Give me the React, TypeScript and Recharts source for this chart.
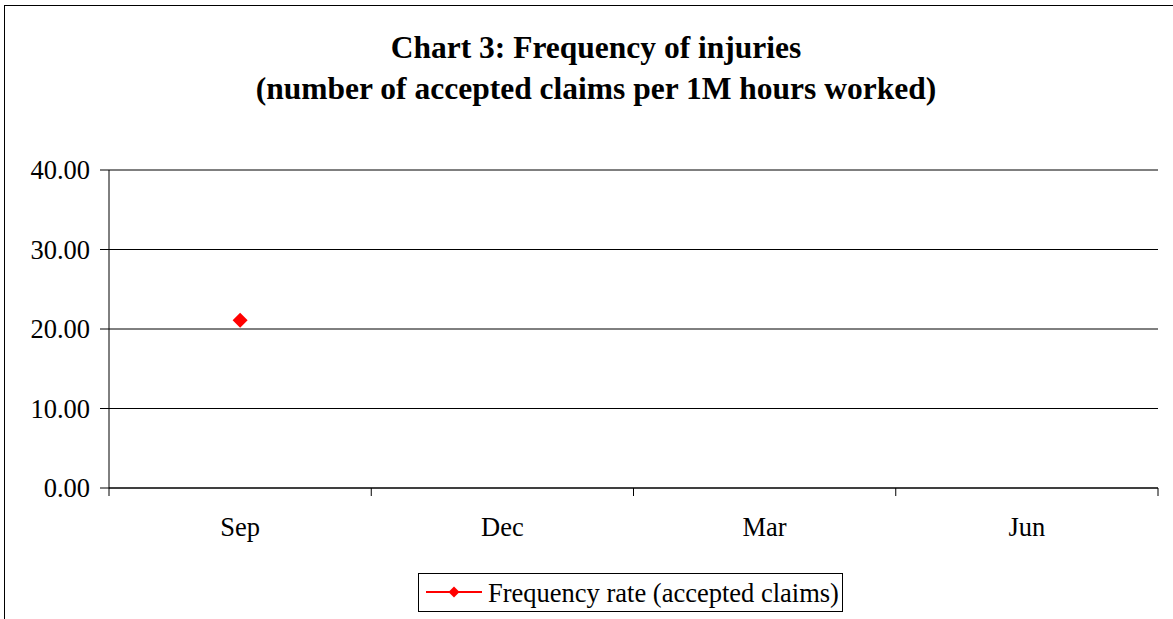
import React from 'react';
import { ComposedChart, Line, XAxis, YAxis, CartesianGrid, Legend } from 'recharts';

const categories = ['Sep', 'Dec', 'Mar', 'Jun'];
const frequencyRate: (number | null)[] = [21.1, null, null, null];
const yTicks = [0, 10, 20, 30, 40];
const seriesName = 'Frequency rate (accepted claims)';
const titleLines = ['Chart 3: Frequency of injuries', '(number of accepted claims per 1M hours worked)'];

const data = categories.map((c, i) => ({ month: c, value: frequencyRate[i] }));

const W = 1173;
const H = 619;
const MARGIN = { top: 170, right: 15, left: 0, bottom: 7 };
const Y_AXIS_W = 109;
const X_AXIS_H = 85;
const FONT = '"Liberation Serif", "Times New Roman", serif';
const LABEL_SIZE = 26.5;
const band = (W - MARGIN.left - Y_AXIS_W - MARGIN.right) / categories.length;

const XTick = (props: any) => {
  const { x, y, payload, index } = props;
  const last = index === categories.length - 1;
  return (
    <g>
      <line x1={x - band / 2} x2={x - band / 2} y1={y} y2={y + 8} stroke="#000" />
      {last && <line x1={x + band / 2} x2={x + band / 2} y1={y} y2={y + 8} stroke="#000" />}
      <text x={x} y={y + 48} textAnchor="middle" fontSize={LABEL_SIZE} fontFamily={FONT} fill="#000">
        {payload.value}
      </text>
    </g>
  );
};

const Diamond = (props: any) => {
  const { cx, cy, index } = props;
  if (cx == null || cy == null || Number.isNaN(cy)) return <g key={`d${index}`} />;
  const r = 7.5;
  return (
    <path
      key={`d${index}`}
      d={`M${cx},${cy - r} L${cx + r},${cy} L${cx},${cy + r} L${cx - r},${cy} Z`}
      fill="#ff0000"
    />
  );
};

const LegendBox = () => (
  <div
    style={{
      width: 425,
      height: 39,
      boxSizing: 'border-box',
      border: '1px solid #000',
      background: '#fff',
      position: 'relative',
    }}
  >
    <svg width={423} height={37} style={{ position: 'absolute', left: 0, top: 0 }}>
      <line x1={7} x2={63} y1={18} y2={18} stroke="#ff0000" strokeWidth={2} />
      <path d="M35,12.5 L40.5,18 L35,23.5 L29.5,18 Z" fill="#ff0000" />
      <text x={69} y={28} fontSize={LABEL_SIZE} fontFamily={FONT} fill="#000">
        {seriesName}
      </text>
    </svg>
  </div>
);

export default function App() {
  return (
    <div
      style={{
        position: 'absolute',
        left: 0,
        top: 0,
        width: W,
        height: H,
        overflow: 'hidden',
        background: '#fff',
      }}
    >
      <div
        style={{
          position: 'absolute',
          left: 4,
          top: 5,
          width: 1300,
          height: 800,
          border: '1px solid #000',
          boxShadow: '1px 1px 0 #888',
        }}
      />
      <svg width={W} height={120} style={{ position: 'absolute', left: 0, top: 0 }}>
        <text x={596} y={58} textAnchor="middle" fontSize={31.5} fontWeight="bold" fontFamily={FONT} fill="#000">
          {titleLines[0]}
        </text>
        <text x={596} y={99} textAnchor="middle" fontSize={31.5} fontWeight="bold" fontFamily={FONT} fill="#000">
          {titleLines[1]}
        </text>
      </svg>
      <div style={{ position: 'absolute', left: 0, top: 0 }}>
        <ComposedChart width={W} height={H} data={data} margin={MARGIN}>
          <CartesianGrid vertical={false} stroke="#000" strokeWidth={1} />
          <XAxis
            dataKey="month"
            type="category"
            scale="band"
            height={X_AXIS_H}
            axisLine={{ stroke: '#000' }}
            tickLine={false}
            tickSize={0}
            tickMargin={0}
            tick={<XTick />}
            interval={0}
          />
          <YAxis
            width={Y_AXIS_W}
            domain={[0, 40]}
            ticks={yTicks}
            interval={0}
            tickFormatter={(v: number) => v.toFixed(2)}
            axisLine={{ stroke: '#000' }}
            tickLine={{ stroke: '#000' }}
            tickSize={9}
            tickMargin={10}
            tick={{ fontSize: LABEL_SIZE, fontFamily: FONT, fill: '#000' }}
          />
          <Legend
            verticalAlign="bottom"
            align="left"
            wrapperStyle={{ left: 418, width: 425 }}
            content={() => <LegendBox />}
          />
          <Line
            dataKey="value"
            name={seriesName}
            stroke="#ff0000"
            strokeWidth={2}
            dot={Diamond}
            activeDot={false}
            isAnimationActive={false}
          />
        </ComposedChart>
      </div>
    </div>
  );
}
